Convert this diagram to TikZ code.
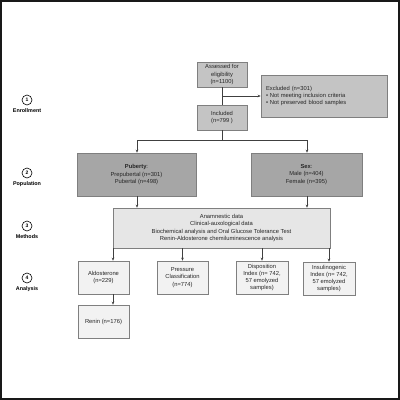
\documentclass[tikz,border=0pt]{standalone}
\usepackage{fontspec}
\setmainfont{Liberation Sans}
\usetikzlibrary{arrows.meta}
\definecolor{bordergray}{HTML}{7F7F7F}
\definecolor{midgray}{HTML}{C4C4C4}
\definecolor{darkgray}{HTML}{A6A6A6}
\definecolor{lightgray}{HTML}{E6E6E6}
\definecolor{palegray}{HTML}{F2F2F2}
\definecolor{linegray}{HTML}{404040}
\tikzset{
  box/.style={draw=bordergray, line width=0.6pt, inner sep=1pt, align=center,
    font=\fontsize{5.8}{7.2}\selectfont, text=black!85},
  enrbox/.style={box, fill=midgray},
  popbox/.style={box, fill=darkgray},
  methbox/.style={box, fill=lightgray},
  anbox/.style={box, fill=palegray},
  conn/.style={draw=linegray, line width=0.6pt},
  arr/.style={conn, -{Stealth[length=3pt,width=2.6pt]}},
  stepcirc/.style={circle, draw=black, line width=0.6pt, minimum size=10pt, inner sep=0pt,
    font=\fontsize{5}{5}\selectfont\bfseries},
  steplabel/.style={font=\fontsize{5.4}{6}\selectfont\bfseries, inner sep=0pt},
}
\begin{document}
\begin{tikzpicture}[x=1pt,y=-1pt]
\useasboundingbox (0,0) rectangle (400,400);
\draw[line width=1.6pt, black!90] (0.8,0.8) rectangle (399.2,399.2);

% left step labels
\node[stepcirc] (c1) at (27,100) {1};
\node[steplabel] (l1) at (27,111) {Enrollment};
\node[stepcirc] (c2) at (27,173) {2};
\node[steplabel] (l2) at (27,184) {Population};
\node[stepcirc] (c3) at (27,226) {3};
\node[steplabel] (l3) at (27,237) {Methods};
\node[stepcirc] (c4) at (27,278) {4};
\node[steplabel] (l4) at (27,289) {Analysis};

% enrollment
\node[enrbox, minimum width=50pt, minimum height=25pt] (assess) at (222,74.5)
  {Assessed for\\eligibility\\(n=1100)};
\node[enrbox, minimum width=50pt, minimum height=25pt] (incl) at (222,117.5)
  {Included\\(n=799 )};
\node[enrbox, minimum width=126pt, minimum height=42pt, align=left, text width=116pt] (excl) at (324,96)
  {Excluded (n=301)\\\textbullet\ Not meeting inclusion criteria\\\textbullet\ Not preserved blood samples};

% population
\node[popbox, minimum width=119pt, minimum height=43pt] (pub) at (136.5,174.5)
  {\textbf{Puberty}:\\Prepubertal (n=301)\\Pubertal (n=498)};
\node[popbox, minimum width=111pt, minimum height=43pt] (sex) at (306.5,174.5)
  {\textbf{Sex}:\\Male (n=404)\\Female (n=395)};

% methods
\node[methbox, minimum width=217pt, minimum height=40pt] (meth) at (221.5,228)
  {Anamnestic data\\Clinical-auxological data\\Biochemical analysis and Oral Glucose Tolerance Test\\Renin-Aldosterone chemiluminescence analysis};

% analysis
\node[anbox, minimum width=51pt, minimum height=33pt] (ald) at (103.5,277.5) {Aldosterone\\(n=229)};
\node[anbox, minimum width=51pt, minimum height=33pt] (ren) at (103.5,321.5) {Renin (n=176)};
\node[anbox, minimum width=51pt, minimum height=33pt] (pres) at (182.5,277.5) {Pressure\\Classification\\(n=774)};
\node[anbox, minimum width=52pt, minimum height=33pt] (disp) at (262,277.5) {Disposition\\Index (n= 742,\\57 emolyzed\\samples)};
\node[anbox, minimum width=52pt, minimum height=33pt] (insu) at (329,278.5) {Insulinogenic\\Index (n= 742,\\57 emolyzed\\samples)};

% connectors
\coordinate (jx) at (222,96);
\coordinate (split) at (222,140);
\coordinate (xa) at (113,0);
\coordinate (xp) at (137,0);
\coordinate (xs) at (307,0);
\draw[conn] (assess.south) -- (incl.north);
\draw[arr] (jx) -- (excl.west |- jx);
\draw[conn] (incl.south) -- (split);
\draw[arr] (split) -| (pub.north -| xp);
\draw[arr] (split) -| (sex.north -| xs);
\draw[arr] (pub.south -| xp) -- (meth.north -| xp);
\draw[arr] (sex.south -| xs) -- (meth.north -| xs);
\draw[arr] (meth.south -| xa) -- (ald.north -| xa);
\draw[arr] (meth.south -| pres) -- (pres.north);
\draw[arr] (meth.south -| disp) -- (disp.north);
\draw[arr] (meth.south -| insu) -- (insu.north);
\draw[arr] (ald.south -| xa) -- (ren.north -| xa);
\end{tikzpicture}
\end{document}
